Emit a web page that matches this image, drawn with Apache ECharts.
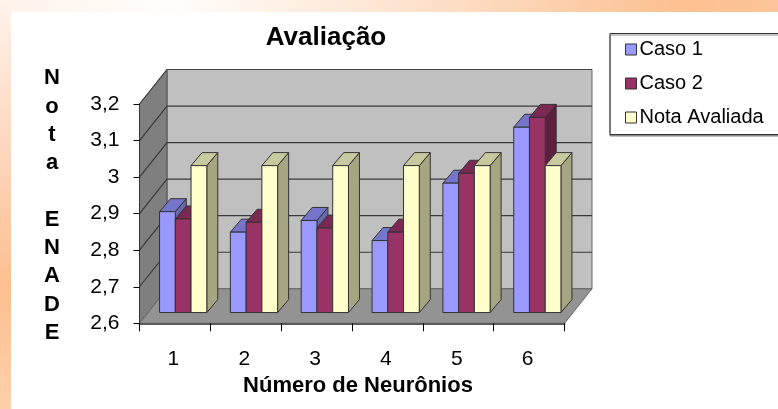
<!DOCTYPE html>
<html>
<head>
<meta charset="utf-8">
<style>
html,body{margin:0;padding:0;background:#fff;overflow:hidden}
#c{width:778px;height:409px;filter:blur(0.35px)}
</style>
<script src="https://cdn.jsdelivr.net/npm/echarts@6/dist/echarts.min.js"></script>
</head>
<body>
<div id="c"></div>
<script>
const categories = ['1','2','3','4','5','6'];
const yTicks = [2.6,2.7,2.8,2.9,3.0,3.1,3.2];
const caso1 = [2.876,2.82,2.852,2.797,2.954,3.107];
const caso2 = [2.856,2.847,2.831,2.82,2.981,3.134];
const notaAvaliada = [3.002,3.002,3.002,3.002,3.002,3.002];
const seriesNames = ['Caso 1','Caso 2','Nota Avaliada'];
const frontColors = ['#9999ff','#993366','#ffffcc'];
const topColors = ['#7575cc','#7a2952','#c9c99f'];
const sideColors = ['#6868b0','#5f2040','#a5a582'];

const FONT = 'Liberation Sans, Arial, sans-serif';
const DX = 27.5, DY = 34.5;      // depth of the 3D box
const BAR_DX = 11, BAR_DY = 13;  // depth of a bar
const EDGE = '#333';

function renderFrame(params, api) {
  const cs = params.coordSys;
  const x0 = cs.x, x1 = cs.x + cs.width, yb = cs.y + cs.height, yt = cs.y;
  const y = api.coord([0, api.value(1)])[1];
  const children = [];
  if (params.dataIndex === 0) {
    children.push({type:'polygon', shape:{points:[[x0+DX,yt-DY],[x1+DX,yt-DY],[x1+DX,yb-DY],[x0+DX,yb-DY]]},
      style:{fill:'#c0c0c0', stroke:'#666', lineWidth:1}});
    children.push({type:'polygon', shape:{points:[[x0,yb],[x0,yt],[x0+DX,yt-DY],[x0+DX,yb-DY]]},
      style:{fill:'#7f7f7f', stroke:'#555', lineWidth:1}});
    children.push({type:'polygon', shape:{points:[[x0,yb],[x1,yb],[x1+DX,yb-DY],[x0+DX,yb-DY]]},
      style:{fill:'#939393', stroke:'#666', lineWidth:1}});
  }
  if (params.dataIndex > 0) {
    children.push({type:'polyline', shape:{points:[[x0,y],[x0+DX,y-DY],[x1+DX,y-DY]]},
      style:{fill:null, stroke: params.dataIndex === yTicks.length-1 ? '#444' : '#3a3a3a', lineWidth:1.2}});
  }
  return {type:'group', children};
}

function makeBarRenderer(si) {
  return function (params, api) {
    const cat = api.value(0);
    const band = api.size([1,0])[0];
    const w = band * 0.2223;
    const c = api.coord([cat, api.value(1)]);
    const b = api.coord([cat, yTicks[0]]);
    const shiftX = (DX - BAR_DX) / 2, shiftY = (DY - BAR_DY) / 2;
    const xl = c[0] + shiftX + (si - 1.5) * w;
    const xr = xl + w;
    const yt = c[1] - shiftY, yb = b[1] - shiftY;
    const edge = {stroke: EDGE, lineWidth: 1};
    return {type:'group', children:[
      {type:'polygon', shape:{points:[[xr,yb],[xr,yt],[xr+BAR_DX,yt-BAR_DY],[xr+BAR_DX,yb-BAR_DY]]},
        style:Object.assign({fill:sideColors[si]},edge)},
      {type:'polygon', shape:{points:[[xl,yt],[xr,yt],[xr+BAR_DX,yt-BAR_DY],[xl+BAR_DX,yt-BAR_DY]]},
        style:Object.assign({fill:topColors[si]},edge)},
      {type:'rect', shape:{x:xl,y:yt,width:w,height:yb-yt},
        style:Object.assign({fill:frontColors[si]},edge)}
    ]};
  };
}

const seriesValues = [caso1, caso2, notaAvaliada];
const chart = echarts.init(document.getElementById('c'), null, {renderer:'canvas'});
chart.setOption({
  animation:false,
  backgroundColor:'#fff',
  textStyle:{fontFamily:FONT},
  graphic:[
    {type:'rect', z:-1, silent:true, shape:{x:0,y:0,width:778,height:12},
     style:{fill:new echarts.graphic.LinearGradient(0,0,1,0,[
       {offset:0,color:'#fff3ea'},{offset:0.22,color:'#fffdfb'},{offset:0.6,color:'#fddcc2'},
       {offset:0.88,color:'#fcbf90'},{offset:1,color:'#fcc59b'}])}},
    {type:'rect', z:-1, silent:true, shape:{x:0,y:0,width:11,height:409},
     style:{fill:new echarts.graphic.LinearGradient(0,0,0,1,[
       {offset:0,color:'#fff3ea'},{offset:0.3,color:'#fddcc6'},{offset:0.7,color:'#fcbf90'},
       {offset:1,color:'#fcd0ac'}])}}
  ],
  title:[
    {text:'Avaliação', left:321, top:20, textAlign:'center',
     textStyle:{fontFamily:FONT,fontSize:26,fontWeight:'bold',color:'#000'}},
    {text:'N\no\nt\na\n\nE\nN\nA\nD\nE', left:47, top:59, textAlign:'center',
     textStyle:{fontFamily:FONT,fontSize:22,fontWeight:'bold',color:'#000',lineHeight:28.3,align:'center'}}
  ],
  legend:{
    orient:'vertical', left:610, top:33.5,
    padding:[6,30,7,15], itemGap:14, itemWidth:11, itemHeight:11,
    icon:'rect', backgroundColor:'#fff',
    borderColor:'#333', borderWidth:1,
    shadowColor:'#888', shadowOffsetY:1.5, shadowBlur:0,
    data:seriesNames.map((n,i)=>({name:n,icon:'rect',
      itemStyle:{color:frontColors[i],borderColor:'#333',borderWidth:1}})),
    textStyle:{fontFamily:FONT,fontSize:20,color:'#000',padding:[0,0,0,-2],lineHeight:20},
    selectedMode:false
  },
  grid:{left:139.5, top:104, width:425, height:219.3, containLabel:false},
  xAxis:{type:'category', data:categories, boundaryGap:true,
    name:'Número de Neurônios', nameLocation:'middle', nameGap:52,
    nameTextStyle:{fontFamily:FONT,fontSize:22,fontWeight:'bold',color:'#000',padding:[0,0,0,12]},
    axisLine:{show:true,lineStyle:{color:'#5a5a5a',width:2}},
    axisTick:{show:true,alignWithLabel:false,length:8,lineStyle:{color:'#000',width:1}},
    axisLabel:{fontFamily:FONT,fontSize:21,color:'#000',margin:25,padding:[0,3,0,0]},
    z:3
  },
  yAxis:{type:'value', min:2.6, max:3.2, interval:0.1,
    axisLine:{show:true,lineStyle:{color:'#333',width:1}},
    axisTick:{show:true,length:6,lineStyle:{color:'#000',width:1}},
    axisLabel:{fontFamily:FONT,fontSize:21,color:'#000',margin:20,
      formatter:v=>String(+v.toFixed(1)).replace('.',',')},
    splitLine:{show:false},
    z:3
  },
  series:[
    {type:'custom', name:'frame', silent:true, z:1, renderItem:renderFrame,
     encode:{x:0,y:1}, data:yTicks.map(v=>[0,v])},
    ...seriesNames.map((n,si)=>({
      type:'custom', name:n, z:2+si, renderItem:makeBarRenderer(si),
      encode:{x:0,y:1},
      itemStyle:{color:frontColors[si]},
      data:categories.map((_,i)=>[i,seriesValues[si][i]])
    }))
  ]
});
</script>
</body>
</html>
